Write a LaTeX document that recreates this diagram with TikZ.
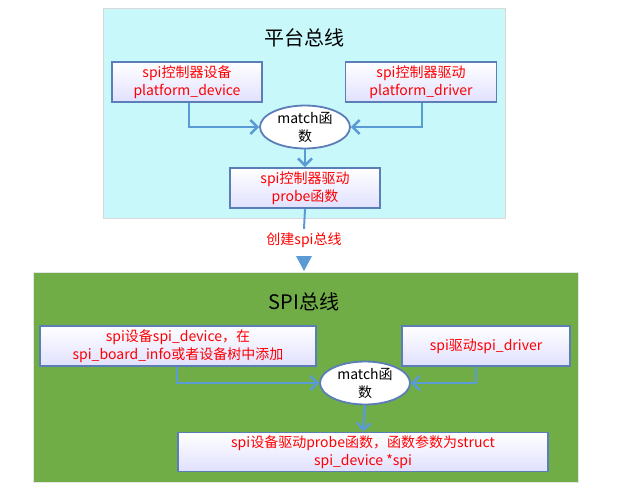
\documentclass[tikz,border=0pt]{standalone}
\usepackage{fontspec}
\setmainfont{Noto Sans CJK SC}
\usetikzlibrary{arrows.meta,shapes.geometric}
\definecolor{panelcyan}{HTML}{C9F8FB}
\definecolor{panelgreen}{HTML}{70AD47}
\definecolor{edgeblue}{HTML}{5B7DB8}
\definecolor{flowblue}{HTML}{5B9BD5}
\tikzset{every picture/.style={line width=0.75pt}}
\tikzset{
  textbox/.style={draw=edgeblue, line width=1.8pt, top color=white, bottom color=white!88!blue,
    align=center, text=red, font=\fontsize{14}{18}\selectfont, inner sep=0pt},
  matchnode/.style={ellipse, draw=edgeblue, line width=1.8pt, fill=white, align=center,
    font=\fontsize{14}{18}\selectfont, minimum width=90, minimum height=40, inner sep=0pt},
  flow/.style={draw=flowblue, line width=2.5pt, -{Straight Barb[length=7pt,width=14pt]}},
}
\begin{document}
\begin{tikzpicture}[x=1pt,y=-1pt]
\useasboundingbox (0,0) rectangle (636,500);
% top panel
\fill[panelcyan, draw=black!15] (103,8) rectangle (505,218);
\node (title1) at (304,38) {\fontsize{20}{22}\selectfont 平台总线};
\node[textbox, minimum width=150, minimum height=40] (pdev) at (187,82) {spi控制器设备\\platform\_device};
\node[textbox, minimum width=151, minimum height=40] (pdrv) at (421,82) {spi控制器驱动\\platform\_driver};
\node[matchnode] (match1) at (305,127) {match函\\数};
\node[textbox, minimum width=150, minimum height=40] (probe1) at (305,188) {spi控制器驱动\\probe函数};
\draw[flow] (pdev.south -| 189,0) |- (match1.west);
\draw[flow] (pdrv.south -| 422,0) |- (match1.east);
\draw[flow] (match1.south) -- (probe1.north);
% link between panels
\node[text=red, font=\fontsize{14}{18}\selectfont] (mkbus) at (304,240) {创建spi总线};
\draw[flowblue, line width=2pt] (probe1.south) -- (mkbus.north);
\coordinate (tip) at (304,271);
\fill[flowblue] (296,256) -- (312,256) -- (tip) -- cycle;
% bottom panel
\fill[panelgreen, draw=black!10] (33,272) rectangle (578,482);
\node (title2) at (304,302) {\fontsize{20}{22}\selectfont SPI总线};
\node[textbox, minimum width=276, minimum height=40] (sdev) at (178,346) {spi设备spi\_device，在\\spi\_board\_info或者设备树中添加};
\node[textbox, minimum width=168, minimum height=40] (sdrv) at (486,346) {spi驱动spi\_driver};
\node[matchnode] (match2) at (365,383) {match函\\数};
\node[textbox, minimum width=370, minimum height=39] (probe2) at (363,452) {spi设备驱动probe函数，函数参数为struct\\spi\_device *spi};
\draw[flow] (sdev.south -| 177,0) |- (match2.west);
\draw[flow] (sdrv.south -| 476,0) |- (match2.east);
\draw[flow] (match2.south) -- (probe2.north);
\end{tikzpicture}
\end{document}
